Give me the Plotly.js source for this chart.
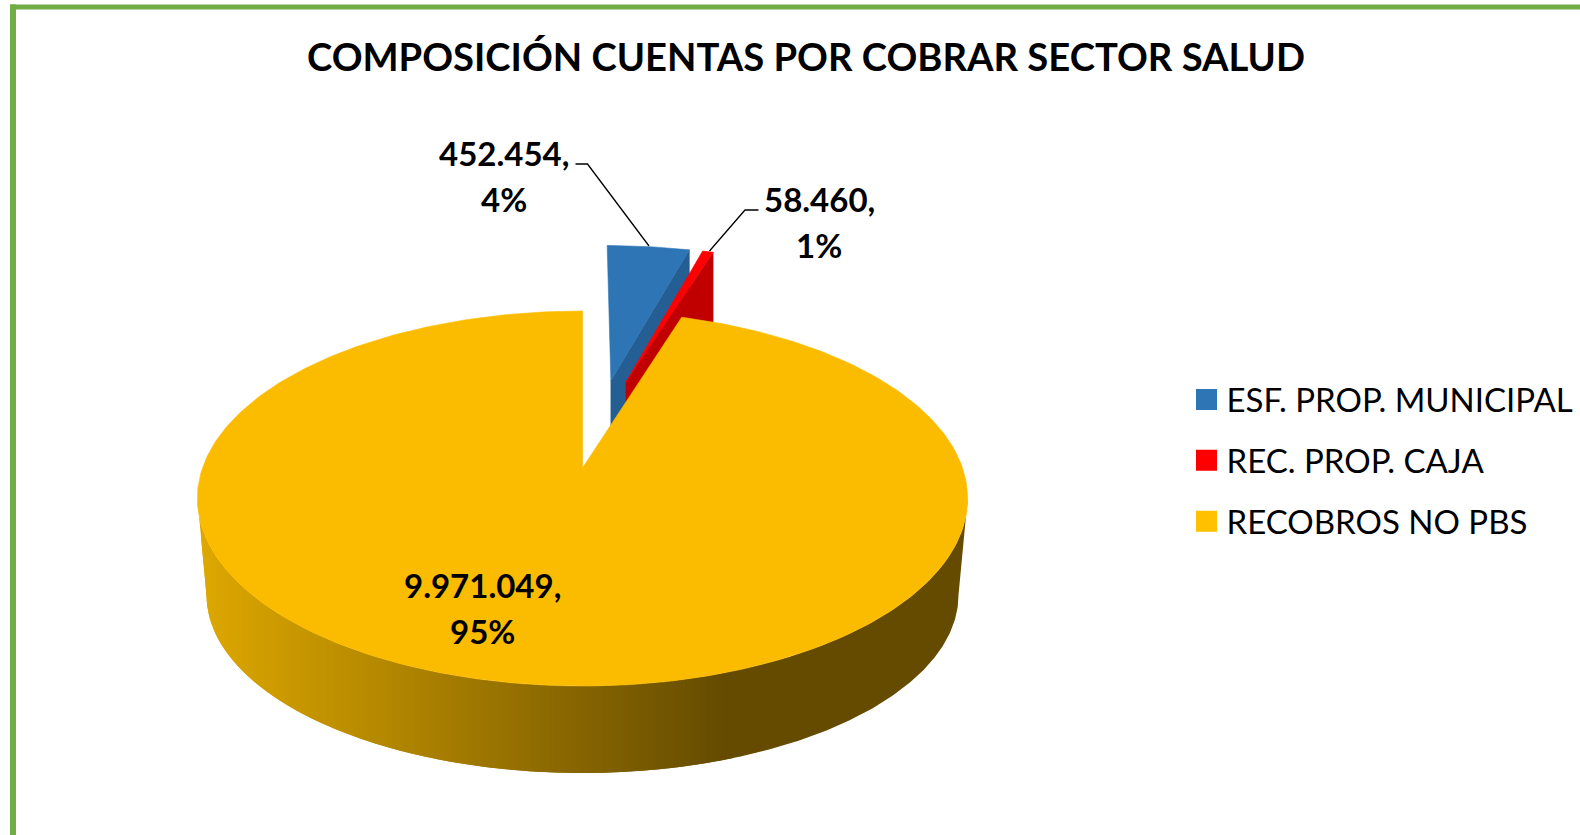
<!DOCTYPE html>
<html>
<head>
<meta charset="utf-8">
<script src="https://cdn.plot.ly/plotly-3.0.1.min.js"></script>
<style>html,body{margin:0;padding:0;background:#fff;overflow:hidden}#chart{width:1580px;height:835px}</style>
</head>
<body>
<div id="chart"></div>
<script>
// ---- data ----
const categories = ["ESF. PROP. MUNICIPAL", "REC. PROP. CAJA", "RECOBROS NO PBS"];
const values = [452454, 58460, 9971049];
const titleText = "COMPOSICIÓN CUENTAS POR COBRAR SECTOR SALUD";

// ---- styling ----
const topColors = ["#2E75B6", "#FF0000", "#FBBC00"];
const legendColors = ["#2E75B6", "#FF0000", "#FFC000"];
const wallColors = ["#255E92", "#C00000", null];
const pullU = [0.081, 0.124, 0];   // explosion of each slice across
const pullV = [0.52, 0.51, 0];     // explosion of each slice in depth
const FONT = "Lato, Carlito, Calibri, sans-serif";
const W = 1580, H = 835;

// projection of the tilted disc onto the plot (axes are in picture units)
const cx = 582.5;
const topPlane = {R: 380, a: 468, b: -106.4, c: 0.1627};
const botPlane = {R: 371, a: 566, b: -81.2, c: 0.1627};
function project(u, v, p) {
  const d = 1 + p.c * v;
  return [cx + p.R * u / d, (p.a + p.b * v) / d];
}
const total = values.reduce((s, x) => s + x, 0);

// angular extent of each slice, clockwise from twelve o'clock
let run = 0;
const spans = values.map(val => {
  const a0 = run / total * 2 * Math.PI;
  run += val;
  return [a0, run / total * 2 * Math.PI];
});

function wedge(i) {
  const [a0, a1] = spans[i];
  const n = Math.max(4, Math.ceil((a1 - a0) * 180 / Math.PI));
  const xs = [], ys = [];
  const ap = project(pullU[i], pullV[i], topPlane);
  xs.push(ap[0]); ys.push(ap[1]);
  for (let k = 0; k <= n; k++) {
    const t = a0 + (a1 - a0) * k / n;
    const q = project(pullU[i] + Math.sin(t), pullV[i] + Math.cos(t), topPlane);
    xs.push(q[0]); ys.push(q[1]);
  }
  xs.push(ap[0]); ys.push(ap[1]);
  return {xs, ys};
}

function fillTrace(xs, ys, color, name, lw) {
  return {type: "scatter", mode: "lines", x: xs, y: ys, fill: "toself", fillcolor: color,
          line: {color: color, width: lw === undefined ? 0.6 : lw}, showlegend: false, hoverinfo: "skip", name: name};
}

// cut face of an exploded slice, dropped straight down; the big slice covers its foot
function cutWall(i, depth) {
  const a1 = spans[i][1];
  const ap = project(pullU[i], pullV[i], topPlane);
  const q = project(pullU[i] + Math.sin(a1), pullV[i] + Math.cos(a1), topPlane);
  return fillTrace([ap[0], q[0], q[0], ap[0], ap[0]], [ap[1], q[1], q[1] + depth, ap[1] + depth, ap[1]],
                   wallColors[i], categories[i] + " (cara)");
}

// rim of the big slice: silhouette from the two discs, shaded in vertical bands
function rimColor(x) {
  const x0 = 205, x1 = 726;
  const f = Math.min(1, Math.max(0, (x - x0) / (x1 - x0)));
  const mix = (p, q) => Math.round(p + (q - p) * f);
  return `rgb(${mix(221, 100)},${mix(167, 75)},0)`;
}
const rimTraces = [];
{
  const aRight = Math.acos(-topPlane.c);
  const aLeft = 2 * Math.PI - aRight;
  const upper = [], lower = [];
  const N = 360;
  for (let k = 0; k <= N; k++) {
    const t = aLeft + (aRight - aLeft) * k / N;      // left to right along the front
    upper.push(project(Math.sin(t), Math.cos(t), topPlane));
    lower.push(project(Math.sin(t), Math.cos(t), botPlane));
  }
  lower.unshift(upper[0]);
  lower.push(upper[upper.length - 1]);
  const at = (line, x) => {
    for (let k = 1; k < line.length; k++) {
      if (x <= line[k][0]) {
        const p = line[k - 1], q = line[k];
        return p[1] + (q[1] - p[1]) * (x - p[0]) / Math.max(1e-6, q[0] - p[0]);
      }
    }
    return line[line.length - 1][1];
  };
  const xMin = upper[0][0], xMax = upper[upper.length - 1][0];
  const step = 4;
  for (let x = xMin; x < xMax; x += step) {
    // each band runs one step further than its own width, so the next one lands on it with no seam
    const xEnd = (x >= 726) ? xMax : Math.min(xMax, x + 2 * step);
    const inside = l => l.filter(p => p[0] > x && p[0] < xEnd);
    const up = inside(upper), lo = inside(lower);
    const pts = [[x, at(upper, x)], ...up, [xEnd, at(upper, xEnd)],
                 [xEnd, at(lower, xEnd)], ...lo.reverse(), [x, at(lower, x)]];
    pts.push(pts[0]);
    rimTraces.push(fillTrace(pts.map(p => p[0]), pts.map(p => p[1]), rimColor(x + step / 2),
                             categories[2] + " (borde)", 0));
    if (x >= 726) break;
  }
}

const w0 = wedge(0), w1 = wedge(1), w2 = wedge(2);
const traces = [
  cutWall(0, 90),
  fillTrace(w0.xs, w0.ys, topColors[0], categories[0]),
  cutWall(1, 90),
  fillTrace(w1.xs, w1.ys, topColors[1], categories[1]),
  ...rimTraces,
  fillTrace(w2.xs, w2.ys, topColors[2], categories[2])
];
// legend entries
categories.forEach((name, i) => traces.push({
  type: "scatter", mode: "markers", x: [null], y: [null], name: name, legendgroup: name,
  marker: {symbol: "square", size: 16, color: legendColors[i], line: {color: legendColors[i], width: 5}},
  hoverinfo: "skip"
}));

// data labels, built from the values
const fmt = v => String(v).replace(/\B(?=(\d{3})+(?!\d))/g, ".");
const labelPos = [[504, 152.5], [819, 199], [482, 585]];
const LABEL_PITCH = 46;
const annotations = [];
values.forEach((v, i) => {
  const base = {xref: "x", yref: "y", showarrow: false, xanchor: "center", yanchor: "middle",
                font: {family: FONT, size: 33, color: "#000", weight: 700}};
  annotations.push({...base, x: labelPos[i][0], y: labelPos[i][1], text: fmt(v) + ","});
  annotations.push({...base, x: labelPos[i][0], y: labelPos[i][1] + LABEL_PITCH,
                    text: Math.round(v / total * 100) + "%"});
});

const shapes = [
  // green frame: top and left rules
  {type: "rect", xref: "paper", yref: "paper", x0: 10 / W, x1: 1, y0: 1 - 4.5 / H, y1: 1 - 9.5 / H,
   fillcolor: "#70AD47", line: {width: 0}},
  {type: "rect", xref: "paper", yref: "paper", x0: 10 / W, x1: 16 / W, y0: 0, y1: 1 - 4.5 / H,
   fillcolor: "#70AD47", line: {width: 0}},
  // leader lines
  {type: "path", xref: "x", yref: "y", path: "M575.5,164 L587.5,164 L649,246", line: {color: "#000", width: 1.3}},
  {type: "path", xref: "x", yref: "y", path: "M758.5,210 L745,210 L709.5,251", line: {color: "#000", width: 1.3}}
];

const layout = {
  width: W, height: H,
  margin: {l: 0, r: 0, t: 0, b: 0},
  paper_bgcolor: "#fff", plot_bgcolor: "#fff",
  title: {text: titleText, x: 806 / W, xanchor: "center", y: 1 - 57.5 / H, yanchor: "middle",
          font: {family: FONT, size: 38.2, color: "#000", weight: 700}},
  xaxis: {range: [0, W], visible: false, fixedrange: true},
  yaxis: {range: [H, 0], visible: false, fixedrange: true},
  showlegend: true,
  legend: {x: 1186.5 / W, xanchor: "left", y: 1 - 378.5 / H + 7 / H, yanchor: "top",
           traceorder: "grouped", tracegroupgap: 15, bgcolor: "rgba(0,0,0,0)", borderwidth: 0,
           font: {family: FONT, size: 33, color: "#000"}},
  shapes: shapes,
  annotations: annotations
};
Plotly.newPlot("chart", traces, layout, {displayModeBar: false, staticPlot: true});
</script>
</body>
</html>
